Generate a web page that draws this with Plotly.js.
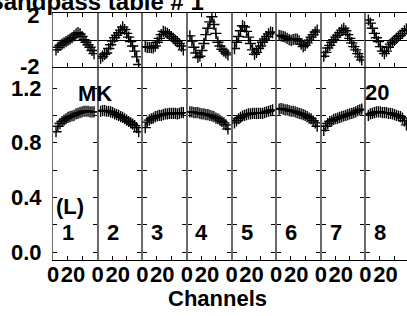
<!DOCTYPE html>
<html>
<head>
<meta charset="utf-8">
<script src="https://cdn.plot.ly/plotly-3.0.1.min.js"></script>
<style>
html,body{margin:0;padding:0;overflow:hidden;background:#fff;width:407px;height:316px;}
#chart{position:absolute;left:0;top:-16px;width:420px;height:332px;}
</style>
</head>
<body>
<div id="chart"></div>
<script>
// Channel numbers within each panel
const channels = [3,5,7,9,11,13,15,17,19,21,23,25,27,29,31,33,35,37,39,41];
const panelLabels = ['1','2','3','4','5','6','7','8'];
const xTickVals = [0, 20];
const xTickText = ['0', '20'];
const ampTickVals = [0, 0.2, 0.4, 0.6, 0.8, 1.0, 1.2];
const ampTickText = ['0.0', '', '0.4', '', '0.8', '', '1.2'];
const phaseTickVals = [-2, 2];
const phaseTickText = ['-2', '2'];

// Amplitude per panel
const amp1 = [0.88,0.92,0.94,0.955,0.965,0.975,0.985,0.99,0.995,1.0,1.01,1.015,1.02,1.025,1.03,1.03,1.03,1.025,1.025,1.025];
const amp2 = [1.03,1.035,1.035,1.03,1.03,1.025,1.02,1.01,1.005,1.0,0.99,0.985,0.975,0.965,0.955,0.945,0.935,0.925,0.91,0.88];
const amp3 = [0.91,0.95,0.965,0.975,0.98,0.99,0.995,1.0,1.0,1.005,1.01,1.01,1.015,1.015,1.015,1.015,1.01,1.015,1.02,1.02];
const amp4 = [1.025,1.025,1.02,1.02,1.02,1.015,1.01,1.01,1.005,1.005,1.0,0.995,0.99,0.98,0.975,0.965,0.955,0.945,0.93,0.9];
const amp5 = [0.945,0.96,0.975,0.985,0.995,1.0,1.005,1.01,1.01,1.015,1.015,1.015,1.015,1.015,1.015,1.02,1.025,1.03,1.035,1.04];
const amp6 = [1.045,1.05,1.045,1.04,1.04,1.035,1.03,1.03,1.025,1.02,1.015,1.01,1.005,1.0,0.99,0.98,0.975,0.96,0.945,0.92];
const amp7 = [0.89,0.92,0.94,0.955,0.96,0.97,0.975,0.98,0.985,0.99,0.995,1.0,1.005,1.01,1.015,1.02,1.025,1.035,1.04,1.045];
const amp8 = [1.0,1.01,1.015,1.02,1.025,1.025,1.025,1.02,1.02,1.02,1.015,1.015,1.01,1.005,1.0,0.995,0.99,0.98,0.96,0.93];

// Phase per panel
const ph1 = [-0.7,-0.5,-0.35,-0.25,-0.15,-0.05,0.05,0.15,0.25,0.4,0.55,0.65,0.55,0.35,0.1,-0.1,-0.3,-0.5,-0.75,-1.0];
const ph2 = [-1.35,-1.2,-1.05,-0.95,-0.6,-0.3,0.0,0.25,0.45,0.65,0.85,1.1,0.9,0.6,0.3,-0.05,-0.4,-0.8,-1.25,-1.85];
const ph3 = [-0.45,-0.5,-0.5,-0.52,-0.55,-0.4,-0.1,0.2,0.5,0.75,0.7,0.6,0.5,0.35,0.2,0.05,-0.05,-0.2,-0.4,-0.7];
const ph4 = [0.4,0.0,-0.5,-0.95,-1.3,-1.2,-0.75,-0.2,0.5,1.0,1.5,1.9,1.3,0.6,-0.1,-0.4,-0.65,-0.8,-0.95,-1.1];
const ph5 = [-0.6,-0.1,0.35,0.8,1.2,1.1,0.75,0.3,-0.2,-0.7,-1.05,-0.9,-0.6,-0.4,-0.1,0.15,0.35,0.55,0.7,0.65];
const ph6 = [0.45,0.4,0.35,0.3,0.2,0.1,0.05,0.1,0.15,0.15,0.0,-0.25,-0.45,-0.35,-0.15,0.05,0.3,0.5,0.7,0.85];
const ph7 = [-1.2,-0.9,-0.55,-0.35,-0.1,0.1,0.3,0.45,0.65,0.85,1.0,0.8,0.5,0.2,-0.15,-0.45,-0.7,-1.0,-1.25,-1.5];
const ph8 = [1.65,1.4,1.0,0.6,0.25,-0.05,-0.45,-0.8,-1.0,-0.8,-0.5,-0.25,-0.1,0.05,0.2,0.35,0.45,0.6,0.8,0.95];

const amps = [amp1,amp2,amp3,amp4,amp5,amp6,amp7,amp8];
const phases = [ph1,ph2,ph3,ph4,ph5,ph6,ph7,ph8];

const FONT = 'Liberation Sans, Arial, sans-serif';
const XRANGE = [0, 44.57];
const MINOR = [14.5, 29.0];
const split = 0.7814;

const marker = {symbol:'cross-thin', size:8, color:'#000', line:{width:1.4, color:'#000'}};
const traces = [];
const layout = {
  width: 420, height: 332,
  margin: {l:53, r:10.4, t:29, b:56},
  paper_bgcolor: '#fff', plot_bgcolor: '#fff',
  showlegend: false,
  font: {family: FONT, size: 22, color: '#000', weight: 'bold'},
  title: {text: 'Bandpass table # 1', x: 0.118, xref: 'paper', xanchor: 'center',
          y: 0.946, yref: 'container', yanchor: 'middle',
          font: {family: FONT, size: 24, color: '#000', weight: 'bold'}},
  annotations: [],
  yaxis: {domain:[split,1], anchor:'x9', range:[-2.05,2.2], tickmode:'array',
          tickvals: phaseTickVals, ticktext: phaseTickText, ticks:'', showgrid:false,
          zeroline:true, zerolinecolor:'#000', zerolinewidth:1,
          showline:true, linecolor:'#6a6a6a', linewidth:1, mirror:'all',
          ticklabelstandoff: 8,
          tickfont:{family:FONT, size:22, color:'#000', weight:'bold'}},
  yaxis2: {domain:[0,split], anchor:'x', range:[-0.0585,1.3537], tickmode:'array',
          tickvals: ampTickVals, ticktext: ampTickText, ticks:'inside', ticklen:4,
          tickcolor:'#000', tickwidth:1, showgrid:false, zeroline:false,
          showline:true, linecolor:'#6a6a6a', linewidth:1, mirror:'allticks',
          ticklabelstandoff: 6,
          tickfont:{family:FONT, size:22, color:'#000', weight:'bold'}}
};

for (let i = 0; i < 8; i++) {
  const xa = 'x' + (i === 0 ? '' : (i + 1));
  const xp = 'x' + (i + 9);
  const dom = [i / 8, (i + 1) / 8];
  layout['xaxis' + (i === 0 ? '' : (i + 1))] = {
    domain: dom, anchor: 'y2', range: XRANGE, tickmode: 'array',
    tickvals: xTickVals, ticktext: xTickText, ticks: '', showgrid: false, zeroline: false,
    tickangle: 0, automargin: false,
    showline: true, linecolor: '#000', linewidth: 1,
    minor: {tickmode: 'array', tickvals: MINOR, ticks: 'inside', ticklen: 4, tickcolor: '#000', tickwidth: 1, showgrid: false},
    ticklabelstandoff: -5,
    tickfont: {family: FONT, size: 22, color: '#000', weight: 'bold'}
  };
  layout['xaxis' + (i + 9)] = {
    domain: dom, anchor: 'y', range: XRANGE, showticklabels: false,
    tickmode: 'array', tickvals: xTickVals, ticks: '', showgrid: false, zeroline: false,
    showline: true, linecolor: '#000', linewidth: 1, mirror: 'ticks',
    minor: {tickmode: 'array', tickvals: MINOR, ticks: 'inside', ticklen: 4, tickcolor: '#000', tickwidth: 1, showgrid: false}
  };
  traces.push({x: channels, y: amps[i], xaxis: xa, yaxis: 'y2', type: 'scatter',
    mode: 'lines+markers', line: {color: '#000', width: 1}, marker: marker, hoverinfo: 'skip'});
  traces.push({x: channels, y: phases[i], xaxis: xp, yaxis: 'y', type: 'scatter',
    mode: 'lines+markers', line: {color: '#000', width: 1}, marker: marker, hoverinfo: 'skip'});
  layout.annotations.push({text: panelLabels[i], xref: xa + ' domain', yref: 'paper',
    x: 0.337, y: 0.1105, xanchor: 'center', yanchor: 'middle', showarrow: false,
    font: {family: FONT, size: 22, color: '#000', weight: 'bold'}});
}

layout.annotations.push({text:'MK', xref:'paper', yref:'paper', x:0.1178, y:0.676, xanchor:'center', yanchor:'middle', showarrow:false, font:{family:FONT,size:22,color:'#000',weight:'bold'}});
layout.annotations.push({text:'20', xref:'paper', yref:'paper', x:0.9086, y:0.68, xanchor:'center', yanchor:'middle', showarrow:false, font:{family:FONT,size:22,color:'#000',weight:'bold'}});
layout.annotations.push({text:'(L)', xref:'paper', yref:'paper', x:0.0477, y:0.2186, xanchor:'center', yanchor:'middle', showarrow:false, font:{family:FONT,size:22,color:'#000',weight:'bold'}});
layout.annotations.push({text:'Channels', xref:'paper', yref:'paper', x:0.46, y:-0.157, xanchor:'center', yanchor:'middle', showarrow:false, font:{family:FONT,size:22,color:'#000',weight:'bold'}});

Plotly.newPlot('chart', traces, layout, {staticPlot: true, displayModeBar: false});
</script>
</body>
</html>
